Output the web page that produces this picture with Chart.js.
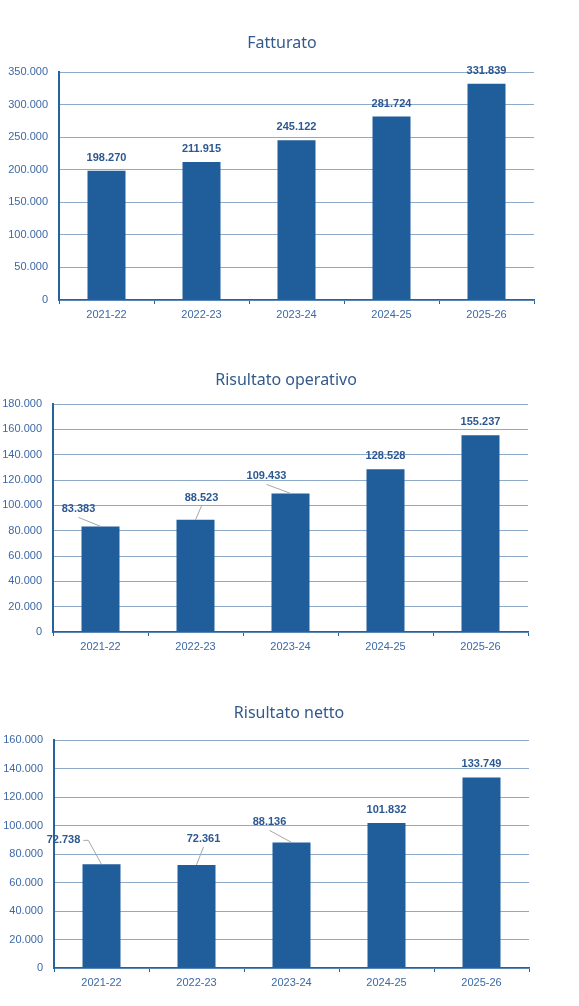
<!DOCTYPE html>
<html>
<head>
<meta charset="UTF-8">
<title>Fatturato e risultati</title>
<script src="https://cdn.jsdelivr.net/npm/chart.js@4"></script>
<style>
body { margin: 0; background: #fff; width: 579px; height: 1006px; overflow: hidden; position: relative; }
.box { position: absolute; left: 0; width: 579px; }
</style>
</head>
<body>
<div class="box" style="top:20px;height:316px"><canvas id="c1"></canvas></div>
<div class="box" style="top:356px;height:312px"><canvas id="c2"></canvas></div>
<div class="box" style="top:690px;height:314px"><canvas id="c3"></canvas></div>
<script>
// dati
const anni = ["2021-22", "2022-23", "2023-24", "2024-25", "2025-26"];
const fatturato = [198270, 211915, 245122, 281724, 331839];
const risOperativo = [83383, 88523, 109433, 128528, 155237];
const risNetto = [72738, 72361, 88136, 101832, 133749];
const assiMax = [350000, 180000, 160000];
const assiPasso = [50000, 20000, 20000];

const barColor = "#205e9b";
const axisBlue = "#2462a0";
const gridColor = "#8eaac9";
const tickColor = "#3d68a6";
const labelColor = "#2c5892";
const arial = '"Liberation Sans", Arial, sans-serif';

function fmt(v) {
  return String(v).replace(/\B(?=(\d{3})+(?!\d))/g, ".");
}

// titolo centrato come nel foglio originale
const titolo = {
  id: "titolo",
  afterDraw(chart, args, opts) {
    const ctx = chart.ctx;
    ctx.save();
    ctx.font = '16px "Noto Sans", sans-serif';
    ctx.fillStyle = "#34598b";
    ctx.textAlign = "center";
    ctx.textBaseline = "middle";
    ctx.fillText(opts.text, opts.x, opts.y);
    ctx.restore();
  }
};

// etichette sopra le barre, con linea guida se spostate
const barLabels = {
  id: "barLabels",
  afterDatasetsDraw(chart, args, opts) {
    const ctx = chart.ctx;
    const meta = chart.getDatasetMeta(0);
    const values = chart.data.datasets[0].data;
    ctx.save();
    ctx.font = "bold 11px " + arial;
    ctx.textAlign = "center";
    ctx.textBaseline = "middle";
    meta.data.forEach((bar, i) => {
      const off = (opts.offsets && opts.offsets[i]) || [0, -13];
      const lx = bar.x + off[0], ly = bar.y + off[1];
      const text = fmt(values[i]);
      const w = ctx.measureText(text).width;
      if (Math.abs(off[0]) > 3) {
        ctx.strokeStyle = "#a6a6a6";
        ctx.lineWidth = 1;
        ctx.beginPath();
        if (lx + w / 2 + 4 < bar.x - 8) {
          ctx.moveTo(lx + w / 2 + 3, ly);
          ctx.lineTo(lx + w / 2 + 8, ly);
        } else {
          ctx.moveTo(lx, ly + 8);
        }
        ctx.lineTo(bar.x, bar.y);
        ctx.stroke();
      }
      ctx.fillStyle = labelColor;
      ctx.fillText(text, lx, ly);
    });
    ctx.restore();
  }
};

function makeChart(id, title, values, yMax, yStep, lay) {
  return new Chart(document.getElementById(id), {
    type: "bar",
    data: {
      labels: anni,
      datasets: [{
        data: values,
        backgroundColor: barColor,
        barPercentage: 0.4,
        categoryPercentage: 1.0
      }]
    },
    plugins: [titolo, barLabels],
    options: {
      responsive: true,
      maintainAspectRatio: false,
      animation: false,
      layout: { padding: { left: 0, right: 579 - lay.right, top: lay.top, bottom: 0 } },
      plugins: {
        legend: { display: false },
        tooltip: { enabled: false },
        title: { display: false },
        titolo: { text: title, x: lay.titleX, y: lay.titleY },
        barLabels: { offsets: lay.offsets }
      },
      scales: {
        x: {
          offset: true,
          grid: { offset: true, drawOnChartArea: false, drawTicks: true, tickLength: 4, color: axisBlue },
          border: { color: axisBlue, width: 1.5 },
          ticks: { color: tickColor, font: { family: arial, size: 11 }, padding: 4 },
          afterFit(s) { s.height = 36; }
        },
        y: {
          min: 0,
          max: yMax,
          ticks: { stepSize: yStep, color: tickColor, font: { family: arial, size: 11 }, padding: 11, callback: v => fmt(v) },
          grid: { color: gridColor, drawTicks: false, lineWidth: 1 },
          border: { color: axisBlue, width: 2 },
          afterFit(s) { s.width = lay.left; }
        }
      }
    }
  });
}

// coordinate relative al canvas
makeChart("c1", "Fatturato", fatturato, assiMax[0], assiPasso[0], {
  left: 59, right: 534, top: 52, titleX: 282, titleY: 23, offsets: null
});
makeChart("c2", "Risultato operativo", risOperativo, assiMax[1], assiPasso[1], {
  left: 53, right: 528, top: 48, titleX: 286, titleY: 24,
  offsets: [[-22, -17], [6, -22], [-24, -17], null, null]
});
makeChart("c3", "Risultato netto", risNetto, assiMax[2], assiPasso[2], {
  left: 54, right: 529, top: 50, titleX: 289, titleY: 23,
  offsets: [[-38, -24], [7, -26], [-22, -20], null, null]
});
</script>
</body>
</html>
